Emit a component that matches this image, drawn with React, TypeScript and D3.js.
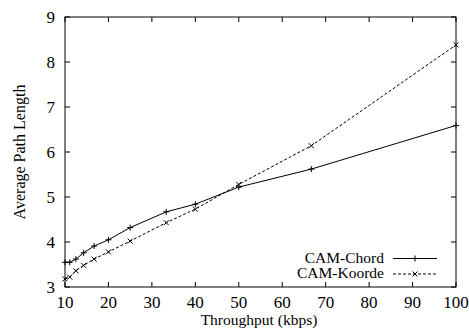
import React from "react";
import * as d3 from "d3";

const chordX = [10, 11.1, 12.5, 14.3, 16.7, 20, 25, 33.3, 40, 50, 66.7, 100];
const chordY = [3.55, 3.55, 3.62, 3.76, 3.91, 4.05, 4.32, 4.67, 4.84, 5.22, 5.62, 6.59];
const koordeX = [10, 11.1, 12.5, 14.3, 16.7, 20, 25, 33.3, 40, 50, 66.7, 100];
const koordeY = [3.18, 3.22, 3.36, 3.48, 3.62, 3.78, 4.02, 4.43, 4.73, 5.28, 6.14, 8.38];
const xTicks = [10, 20, 30, 40, 50, 60, 70, 80, 90, 100];
const yTicks = [3, 4, 5, 6, 7, 8, 9];
const seriesNames = ["CAM-Chord", "CAM-Koorde"];

const W = 469, H = 335;
const L = 65, R = 456, T = 17, B = 287;
const font = "'Liberation Serif', 'Times New Roman', serif";

export default function App() {
  const x = d3.scaleLinear().domain([10, 100]).range([L, R]);
  const y = d3.scaleLinear().domain([3, 9]).range([B, T]);
  const line = d3.line<[number, number]>().x(d => x(d[0])).y(d => y(d[1]));
  const chord: [number, number][] = chordX.map((v, i) => [v, chordY[i]]);
  const koorde: [number, number][] = koordeX.map((v, i) => [v, koordeY[i]]);
  const tl = 5;
  const plus = (cx: number, cy: number, k: string) => (
    <path key={k} d={`M${cx - 3},${cy}H${cx + 3}M${cx},${cy - 3}V${cy + 3}`} stroke="#000" strokeWidth={1} />
  );
  const cross = (cx: number, cy: number, k: string) => (
    <path key={k} d={`M${cx - 2.5},${cy - 2.5}L${cx + 2.5},${cy + 2.5}M${cx - 2.5},${cy + 2.5}L${cx + 2.5},${cy - 2.5}`} stroke="#000" strokeWidth={1} />
  );
  return (
    <svg width={W} height={H} style={{ position: "absolute", left: 0, top: 0, background: "#fff" }} fontFamily={font}>
      <rect x={0} y={0} width={W} height={H} fill="#fff" />
      {xTicks.map(t => (
        <g key={"xt" + t}>
          <line x1={x(t)} x2={x(t)} y1={B} y2={B - tl} stroke="#000" />
          <line x1={x(t)} x2={x(t)} y1={T} y2={T + tl} stroke="#000" />
          <text x={x(t)} y={308} textAnchor="middle" fontSize={17}>{t}</text>
        </g>
      ))}
      {yTicks.map(t => (
        <g key={"yt" + t}>
          <line x1={L} x2={L + tl} y1={y(t)} y2={y(t)} stroke="#000" />
          <line x1={R} x2={R - tl} y1={y(t)} y2={y(t)} stroke="#000" />
          <text x={55} y={y(t)} dy="0.35em" textAnchor="end" fontSize={17}>{t}</text>
        </g>
      ))}
      <rect x={L} y={T} width={R - L} height={B - T} fill="none" stroke="#000" strokeWidth={1} />
      <path d={line(chord) || ""} fill="none" stroke="#000" strokeWidth={1} />
      <path d={line(koorde) || ""} fill="none" stroke="#000" strokeWidth={1} strokeDasharray="3,2" />
      {chord.map((d, i) => plus(x(d[0]), y(d[1]), "c" + i))}
      {koorde.map((d, i) => cross(x(d[0]), y(d[1]), "k" + i))}
      <text x={259} y={325} textAnchor="middle" fontSize={15.5}>Throughput (kbps)</text>
      <text transform={`translate(25,152) rotate(-90)`} textAnchor="middle" fontSize={16}>Average Path Length</text>
      <text x={384} y={262.5} textAnchor="end" fontSize={15.5}>{seriesNames[0]}</text>
      <line x1={393} x2={437} y1={258.5} y2={258.5} stroke="#000" />
      {plus(415, 258.5, "lc")}
      <text x={384} y={278} textAnchor="end" fontSize={15.5}>{seriesNames[1]}</text>
      <line x1={393} x2={437} y1={274} y2={274} stroke="#000" strokeDasharray="3,2" />
      {cross(415, 274, "lk")}
    </svg>
  );
}
